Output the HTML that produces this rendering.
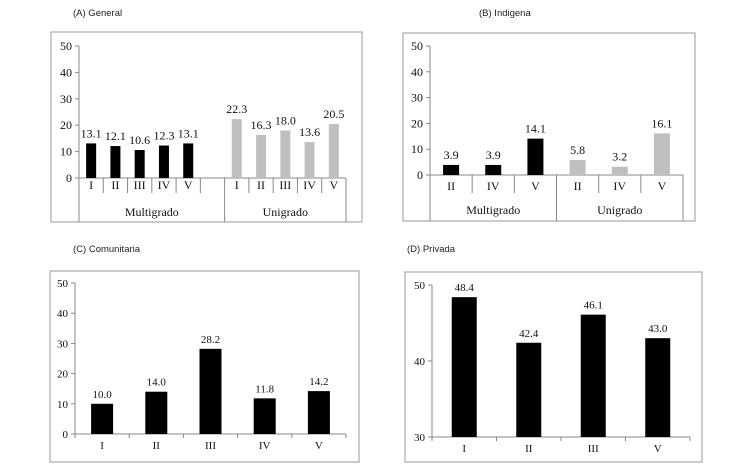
<!DOCTYPE html>
<html><head><meta charset="utf-8"><style>
body{margin:0;background:#fff;}
svg{display:block;}
.t{font-family:"Liberation Sans",sans-serif;font-size:9.5px;fill:#222;}
.n{font-family:"Liberation Serif",serif;font-size:11px;fill:#111;}
.big .n{font-size:12px;}
</style></head><body>
<svg id="c" width="734" height="472" xmlns="http://www.w3.org/2000/svg"></svg>
<script>
const catsA=["I","II","III","IV","V","","I","II","III","IV","V"];
const valsA=[13.1,12.1,10.6,12.3,13.1,null,22.3,16.3,18.0,13.6,20.5];
const catsB=["II","IV","V","II","IV","V"];
const valsB=[3.9,3.9,14.1,5.8,3.2,16.1];
const catsC=["I","II","III","IV","V"];
const valsC=[10.0,14.0,28.2,11.8,14.2];
const catsD=["I","II","III","V"];
const valsD=[48.4,42.4,46.1,43.0];
const ticks50=[0,10,20,30,40,50];
const ticksD=[30,40,50];
const groupsA=["Multigrado","Unigrado"];
const groupsB=["Multigrado","Unigrado"];

const svg=document.getElementById('c');
const NS="http://www.w3.org/2000/svg";
function mk(tag,at,name,parent){const e=document.createElementNS(NS,tag);for(const k in at)e.setAttribute(k,at[k]);


(parent||svg).appendChild(e);return e;}
function txt(x,y,s,cls,name,anchor,parent){const e=mk('text',{x:x,y:y,class:cls,'text-anchor':anchor||'middle'},name,parent);e.textContent=s;return e;}

function panel(o){
  const g=mk('g',{class:o.cls||''},o.name);
  mk('rect',{x:o.bx,y:o.by,width:o.bw,height:o.bh,fill:'#fff',stroke:'#aaa','stroke-width':1.2},o.name+'-frame',g);
  txt(o.tx,o.ty,o.title,'t',o.name+'-title','start',g);
  const y=v=>o.y0+(v-o.ymin)/(o.ymax-o.ymin)*(o.y1-o.y0);
  mk('line',{x1:o.ax,y1:o.y0,x2:o.ax,y2:o.y1,stroke:'#888'},o.name+'-y-axis',g);
  o.ticks.forEach(t=>{
    mk('line',{x1:o.ax-4,y1:y(t),x2:o.ax,y2:y(t),stroke:'#888'},o.name+'-y-tick',g);
    txt(o.ax-7,y(t)+4,String(t),'n',o.name+'-y-tick-label','end',g);
  });
  mk('line',{x1:o.ax,y1:o.y0,x2:o.xe,y2:o.y0,stroke:'#888'},o.name+'-x-axis',g);
  const n=o.cats.length,sw=(o.xe-o.ax)/n;
  for(let i=0;i<=n;i++){
    const xx=o.ax+i*sw;
    const long=o.longIdx&&o.longIdx.includes(i);
    mk('line',{x1:xx,y1:o.y0,x2:xx,y2:long?o.by+o.bh:o.y0+o.tickLen,stroke:'#888'},o.name+'-x-separator',g);
  }
  o.cats.forEach((c,i)=>{
    const cx=o.ax+(i+0.5)*sw;
    if(c)txt(cx,o.y0+o.labOff,c,'n',o.name+'-x-label','middle',g);
    const v=o.vals[i];
    if(v==null)return;
    const top=y(v);
    mk('rect',{x:cx-o.barW/2,y:top,width:o.barW,height:o.y0-top,fill:o.colors?o.colors[i]:'#000'},o.name+'-bar',g);
    txt(cx,top-6,v.toFixed(1),'n',o.name+'-value-label','middle',g);
  });
  if(o.groups){o.groups.forEach((gname,gi)=>{
    const a=o.ax+o.groupSpan[gi][0]*sw,b=o.ax+o.groupSpan[gi][1]*sw;
    txt((a+b)/2,o.gy,gname,'n',o.name+'-group-label','middle',g);
  });}
}
const gr='#bfbfbf';
panel({name:'panel-a',cls:'big',bx:51,by:32,bw:311,bh:190,tx:73,ty:16,title:'(A) General',ax:79,xe:346,y0:178,y1:46,ymin:0,ymax:50,
  ticks:ticks50,cats:catsA,vals:valsA,colors:catsA.map((c,i)=>i<5?'#000':gr),barW:10,tickLen:15,labOff:11,longIdx:[0,6,11],
  groups:groupsA,groupSpan:[[0,6],[6,11]],gy:216});
panel({name:'panel-b',cls:'big',bx:403,by:33,bw:292,bh:188,tx:479,ty:16,title:'(B) Indigena',ax:430,xe:683,y0:175,y1:46,ymin:0,ymax:50,
  ticks:ticks50,cats:catsB,vals:valsB,colors:catsB.map((c,i)=>i<3?'#000':gr),barW:16,tickLen:18,labOff:15,longIdx:[0,3,6],
  groups:groupsB,groupSpan:[[0,3],[3,6]],gy:214});
panel({name:'panel-c',bx:50,by:271,bw:309,bh:191,tx:73,ty:252,title:'(C) Comunitaria',ax:75,xe:346,y0:434,y1:283,ymin:0,ymax:50,
  ticks:ticks50,cats:catsC,vals:valsC,barW:22,tickLen:4,labOff:15});
panel({name:'panel-d',bx:405,by:272,bw:297,bh:190,tx:407,ty:252,title:'(D) Privada',ax:432,xe:690,y0:437,y1:285,ymin:30,ymax:50,
  ticks:ticksD,cats:catsD,vals:valsD,barW:25,tickLen:4,labOff:15});
</script>
</body></html>
